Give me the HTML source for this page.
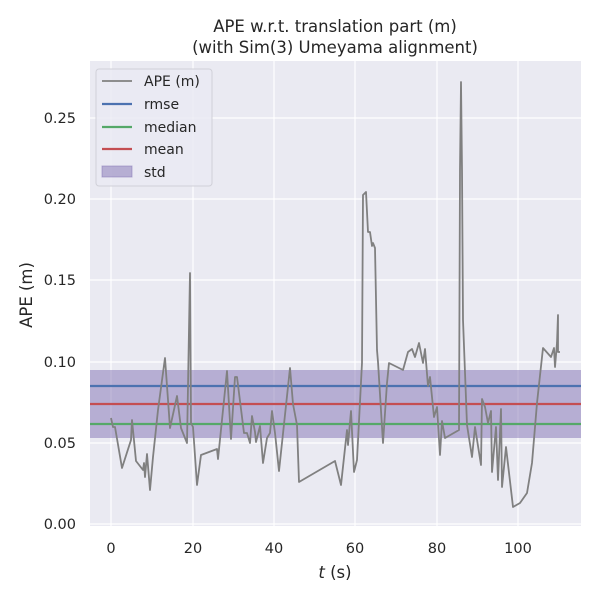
<!DOCTYPE html>
<html><head><style>body{margin:0;background:#fff}</style></head><body>
<svg width="600" height="600" xmlns="http://www.w3.org/2000/svg" font-family="DejaVu Sans, Liberation Sans, sans-serif">
<rect x="90" y="61" width="491" height="465" fill="#eaeaf2"/>
<g stroke="#fff" stroke-width="1.2">
<line x1="111" y1="61" x2="111" y2="526"/><line x1="193" y1="61" x2="193" y2="526"/><line x1="274" y1="61" x2="274" y2="526"/><line x1="355" y1="61" x2="355" y2="526"/><line x1="437" y1="61" x2="437" y2="526"/><line x1="518" y1="61" x2="518" y2="526"/>
<line x1="90" y1="524" x2="581" y2="524"/><line x1="90" y1="443" x2="581" y2="443"/><line x1="90" y1="362" x2="581" y2="362"/><line x1="90" y1="280" x2="581" y2="280"/><line x1="90" y1="199" x2="581" y2="199"/><line x1="90" y1="118" x2="581" y2="118"/>
</g>
<rect x="90" y="370" width="491" height="68" fill="#8172b3" fill-opacity="0.5"/>
<line x1="90" y1="386" x2="581" y2="386" stroke="#4c72b0" stroke-width="2.2"/>
<line x1="90" y1="424" x2="581" y2="424" stroke="#55a868" stroke-width="2.2"/>
<line x1="90" y1="404" x2="581" y2="404" stroke="#c44e52" stroke-width="2.2"/>
<polyline fill="none" stroke="#808080" stroke-width="1.8" stroke-linejoin="round" points="111,418 113,427 115,427 122,468 131,440 132,420 136,461 143,470 144,463 145,477 147,454 150,490 153,457 158,410 165,358 170,428 177,396 181,428 187,443 190,273 191,423 193,427 197,485 201,455 217,449 218,459 227,371 231,439 235,377 237,377 244,433 247,433 250,443 252,416 255,432 256,442 260,426 263,463 267,438 270,433 272,411 275,433 279,471 290,368 293,404 297,425 299,482 335,461 341,485 347,430 348,445 351,411 354,472 357,460 362,363 363,195 366,192 368,232 370,232 372,246 373,243 375,248 377,350 378,362 383,443 387,383 389,363 403,370 408,352 412,349 415,357 419,343 423,363 425,349 428,386 430,377 434,417 437,407 440,455 442,421 445,438 459,430 460,170 461,82 462,170 463,320 467,425 472,457 475,427 481,465 482,399 485,407 488,423 491,411 492,472 496,427 498,480 501,409 502,487 506,447 513,507 520,503 527,493 532,463 537,403 543,348 551,357 554,348 555,367 557,343 558,315 558,352 560,352"/>
<g font-size="14.5" fill="#262626">
<g text-anchor="end"><text x="76" y="529">0.00</text><text x="76" y="448">0.05</text><text x="76" y="367">0.10</text><text x="76" y="285">0.15</text><text x="76" y="204">0.20</text><text x="76" y="123">0.25</text></g>
<g text-anchor="middle"><text x="111" y="553">0</text><text x="193" y="553">20</text><text x="274" y="553">40</text><text x="355" y="553">60</text><text x="437" y="553">80</text><text x="518" y="553">100</text></g>
</g>
<g font-size="16.5" fill="#262626" text-anchor="middle">
<text x="335" y="578"><tspan font-style="italic">t</tspan> (s)</text>
<text transform="translate(32,295) rotate(-90)">APE (m)</text>
<text x="335" y="32">APE w.r.t. translation part (m)</text>
<text x="335" y="53">(with Sim(3) Umeyama alignment)</text>
</g>
<rect x="96" y="69" width="116" height="117" rx="3" fill="#eaeaf2" fill-opacity="0.8" stroke="#d0d0d8"/>
<g stroke-width="2.2">
<line x1="102" y1="81" x2="132" y2="81" stroke="#808080" stroke-width="1.8"/>
<line x1="102" y1="104" x2="132" y2="104" stroke="#4c72b0"/>
<line x1="102" y1="127" x2="132" y2="127" stroke="#55a868"/>
<line x1="102" y1="149" x2="132" y2="149" stroke="#c44e52"/>
</g>
<rect x="102" y="166" width="30" height="11" fill="#8172b3" fill-opacity="0.5" stroke="#8172b3" stroke-opacity="0.5"/>
<g font-size="14" fill="#262626">
<text x="144" y="86">APE (m)</text><text x="144" y="109">rmse</text><text x="144" y="132">median</text><text x="144" y="154">mean</text><text x="144" y="177">std</text>
</g>
</svg>
</body></html>
